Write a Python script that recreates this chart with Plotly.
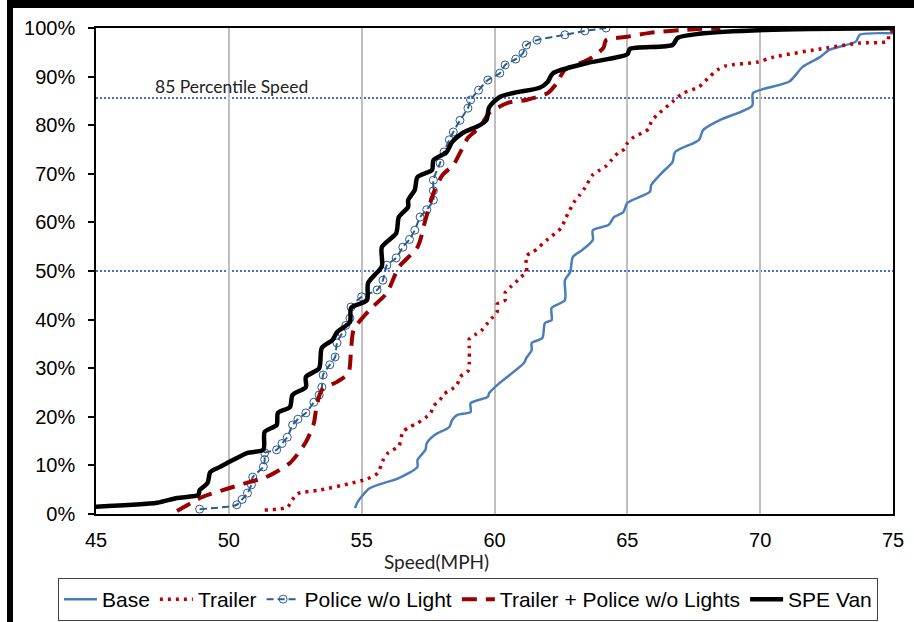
import plotly.graph_objects as go

# ---------------- data (speed in MPH, cumulative share in %) ----------------
base_speed = [54.75, 54.85, 55.3, 56.4, 57.1, 57.1, 57.4, 57.45, 57.76, 58.3, 58.4, 58.6, 59.1, 59.1,
              59.75, 59.8, 60.2, 61.1, 61.2, 61.4, 61.4, 61.8, 61.9, 62.15, 62.15, 62.65, 62.65, 62.85,
              62.95, 63.3, 63.7, 63.7, 64.3, 64.5, 64.85, 65.0, 65.85, 65.9, 66.3, 66.7, 66.8, 67.7,
              67.85, 68.5, 69.7, 69.73, 71.1, 71.6, 72.25, 72.6, 73.6, 73.75, 75.0]
base_pct = [1.2, 2.5, 5.3, 7.4, 9.7, 11.1, 13.2, 14.6, 16.3, 17.9, 19.3, 20.4, 21.0, 22.8,
            24.1, 24.9, 27.0, 31.0, 32.1, 33.7, 35.2, 36.2, 39.3, 39.9, 42.4, 44.0, 48.1, 49.8,
            52.9, 54.3, 56.4, 58.4, 59.5, 61.1, 62.1, 64.0, 66.3, 67.7, 70.2, 72.4, 74.5, 77.0,
            79.0, 81.1, 84.0, 86.6, 89.0, 92.0, 94.0, 95.5, 97.2, 98.6, 98.9]

trailer_speed = [51.35, 52.2, 52.4, 52.6, 53.4, 54.5, 55.2, 55.6, 55.8, 56.0, 56.4, 56.55, 56.8, 57.1,
                 57.4, 57.6, 57.7, 57.95, 58.1, 58.4, 58.6, 58.7, 59.0, 59.05, 59.05, 59.05, 59.3, 59.5,
                 59.7, 59.9, 60.1, 60.1, 60.4, 60.4, 60.6, 60.8, 61.0, 61.2, 61.2, 61.45, 62.0, 62.5,
                 62.7, 63.0, 63.2, 63.4, 63.7, 63.97, 64.2, 64.4, 64.65, 64.9, 65.0, 65.25, 65.55, 65.8,
                 65.9, 66.1, 66.7, 67.1, 67.7, 68.1, 68.4, 68.7, 69.9, 70.5, 72.5, 73.75, 74.8, 74.85, 75.0]
trailer_pct = [0.8, 1.4, 3.0, 4.2, 4.9, 6.2, 7.2, 8.4, 11.0, 12.6, 14.0, 16.9, 17.9, 18.7,
               19.8, 20.8, 22.2, 23.5, 24.7, 25.7, 26.7, 28.2, 29.4, 31.0, 34.4, 36.0, 37.0, 37.7,
               39.0, 40.3, 41.6, 43.2, 44.0, 45.5, 46.7, 47.7, 48.8, 49.8, 53.1, 53.9, 56.5, 58.8,
               61.1, 64.2, 65.6, 67.1, 69.8, 70.8, 71.6, 72.8, 74.3, 75.1, 76.3, 77.6, 78.4, 79.2,
               80.7, 82.0, 84.8, 86.6, 87.9, 90.0, 91.4, 92.2, 93.0, 94.0, 95.9, 96.9, 97.3, 99.0, 99.4]

police_speed = [48.9, 50.3, 50.5, 50.7, 50.85, 50.9, 51.3, 51.35, 51.35, 51.8, 52.0, 52.2, 52.4, 52.6,
                52.9, 53.2, 53.4, 53.5, 53.55, 53.8, 54.0, 54.07, 54.26, 54.4, 54.56, 54.6, 55.0, 55.58,
                55.8, 55.95, 56.3, 56.55, 56.8, 57.0, 57.2, 57.45, 57.7, 57.7, 57.7, 57.95, 58.1, 58.3,
                58.45, 58.7, 59.0, 59.1, 59.4, 59.75, 60.2, 60.4, 60.8, 61.07, 61.2, 61.6, 62.65, 63.4, 64.2]
police_pct = [1.0, 1.9, 3.0, 4.3, 6.0, 7.6, 9.7, 11.2, 12.6, 13.2, 14.5, 15.8, 18.3, 19.5,
              20.8, 23.0, 24.5, 26.1, 28.6, 30.7, 32.3, 35.2, 37.2, 38.8, 40.3, 42.6, 44.7, 46.1,
              48.1, 51.2, 52.7, 54.9, 56.5, 58.4, 61.1, 62.6, 64.6, 66.5, 68.7, 72.2, 74.5, 77.0,
              78.6, 81.0, 83.5, 85.2, 87.2, 89.3, 90.7, 92.4, 93.6, 94.8, 96.5, 97.5, 98.6, 99.4, 100.0]

tp_speed = [48.05, 49.0, 50.0, 50.8, 51.4, 52.3, 52.9, 53.2, 53.3, 53.5, 54.07, 54.5, 54.6, 54.7,
            55.3, 55.95, 56.4, 57.1, 57.4, 57.7, 58.05, 58.45, 58.7, 59.0, 59.45, 59.8, 60.5, 61.2,
            62.0, 62.35, 62.65, 63.5, 64.1, 64.2, 65.0, 65.85, 67.1, 68.5]
tp_pct = [0.6, 3.5, 5.3, 6.6, 7.6, 10.5, 14.8, 18.7, 22.0, 25.5, 27.2, 29.0, 33.7, 37.9,
          42.0, 45.5, 50.8, 54.9, 60.5, 66.0, 69.8, 71.8, 74.3, 77.4, 79.6, 82.5, 84.6, 85.2,
          86.6, 88.7, 91.4, 93.4, 95.9, 97.5, 98.2, 99.0, 99.6, 100.0]

spe_speed = [45.0, 47.3, 48.05, 48.85, 48.9, 49.2, 49.3, 49.67, 50.15, 50.7, 51.3, 51.35, 51.8, 51.85,
             52.3, 52.4, 52.9, 52.9, 53.4, 53.5, 53.9, 54.07, 54.56, 54.6, 55.2, 55.24, 55.76, 55.76,
             56.3, 56.4, 56.75, 56.75, 57.0, 57.1, 57.65, 57.7, 58.2, 58.4, 58.8, 59.45, 59.7, 59.8,
             60.2, 60.85, 61.7, 62.0, 62.2, 63.5, 65.0, 65.1, 66.7, 66.9, 67.7, 70.2, 75.0]
spe_pct = [1.5, 2.3, 3.3, 3.9, 4.9, 6.4, 8.6, 9.7, 11.1, 12.6, 13.2, 16.9, 18.3, 20.8,
           22.0, 24.5, 26.1, 28.2, 30.0, 34.2, 35.8, 37.4, 39.5, 42.4, 44.0, 47.5, 51.0, 54.9,
           57.8, 61.1, 63.2, 64.6, 66.7, 69.3, 70.8, 72.8, 74.5, 76.5, 78.4, 80.0, 81.1, 83.7,
           85.8, 86.8, 87.7, 88.9, 90.7, 92.8, 94.6, 95.7, 96.5, 98.0, 98.8, 99.6, 100.0]

series_names = ["Base", "Trailer", "Police w/o Light", "Trailer + Police w/o Lights", "SPE Van"]
ref_levels = [0.856, 0.50]
ref_label = "85 Percentile Speed"
x_title = "Speed(MPH)"
x_ticks = [45, 50, 55, 60, 65, 70, 75]

# ---------------- figure ----------------
fig = go.Figure()
SM = 0.7

def pct(v):
    return [p / 100.0 for p in v]

fig.add_trace(go.Scatter(x=base_speed, y=pct(base_pct), name=series_names[0], mode="lines",
                         line=dict(color="#4A7EBB", width=2.5, shape="spline", smoothing=SM)))
fig.add_trace(go.Scatter(x=trailer_speed, y=pct(trailer_pct), name=series_names[1], mode="lines",
                         line=dict(color="#C00000", width=3.5, dash="3px,5px", shape="spline", smoothing=SM)))
fig.add_trace(go.Scatter(x=police_speed, y=pct(police_pct), name=series_names[2], mode="lines+markers",
                         line=dict(color="#2B5C8F", width=2, dash="7px,4px", shape="spline", smoothing=SM),
                         marker=dict(symbol="circle-open", size=8, color="#2B5C8F", line=dict(width=1))))
fig.add_trace(go.Scatter(x=tp_speed, y=pct(tp_pct), name=series_names[3], mode="lines",
                         line=dict(color="#990000", width=4, dash="15px,9px", shape="spline", smoothing=SM)))
fig.add_trace(go.Scatter(x=spe_speed, y=pct(spe_pct), name=series_names[4], mode="lines",
                         line=dict(color="#000000", width=4.5, shape="spline", smoothing=SM)))

shapes = []
for lv in ref_levels:
    shapes.append(dict(type="line", xref="x", yref="y", x0=45, x1=75, y0=lv, y1=lv,
                       line=dict(color="#4472C4", width=2, dash="2px,2px"), layer="below"))

# outer thick frame (left and top edges visible)
W, H = 914, 622
L, R, T, B = 96, 893, 28, 514
def px_x(p):
    return (p - L) / (R - L)
def px_y(p):
    return (B - p) / (B - T)
shapes.append(dict(type="line", xref="paper", yref="paper", x0=px_x(10), x1=px_x(10),
                   y0=px_y(0), y1=px_y(622), line=dict(color="black", width=6)))
shapes.append(dict(type="line", xref="paper", yref="paper", x0=px_x(7), x1=px_x(914),
                   y0=px_y(4), y1=px_y(4), line=dict(color="black", width=8)))

annotations = [
    dict(text=ref_label, xref="paper", yref="paper", x=px_x(153), y=px_y(86), xanchor="left",
         yanchor="middle", showarrow=False, font=dict(family="Lato", size=17.5, color="#222")),
    dict(text=x_title, xref="paper", yref="paper", x=px_x(436), y=px_y(561), xanchor="center",
         yanchor="middle", showarrow=False, font=dict(family="Lato", size=19, color="#222")),
]

fig.update_layout(
    width=W, height=H,
    margin=dict(l=L, r=W - R, t=T, b=H - B, pad=0, autoexpand=False),
    paper_bgcolor="white", plot_bgcolor="white",
    showlegend=True,
    legend=dict(orientation="h", x=px_x(58), xanchor="left", y=px_y(578), yanchor="top",
                bordercolor="#404040", borderwidth=1, font=dict(family="Liberation Sans", size=21, color="black"),
                itemwidth=33, tracegroupgap=0),
    shapes=shapes, annotations=annotations,
    font=dict(family="Liberation Sans", color="black"),
)
fig.update_xaxes(range=[45, 75], tickvals=x_ticks, showgrid=True, gridcolor="#BFBFBF", gridwidth=2,
                 showline=True, linecolor="black", linewidth=1.5, mirror=True, ticks="",
                 tickfont=dict(family="Liberation Sans", size=20), ticklabelstandoff=7, zeroline=False)
fig.update_yaxes(range=[0, 1], dtick=0.1, tickformat=".0%", showgrid=False,
                 showline=True, linecolor="black", linewidth=1.5, mirror=True, ticks="outside",
                 ticklen=6, tickcolor="black", tickwidth=1.5,
                 tickfont=dict(family="Liberation Sans", size=20), ticklabelstandoff=9, zeroline=False)

fig.write_html("out.html")
